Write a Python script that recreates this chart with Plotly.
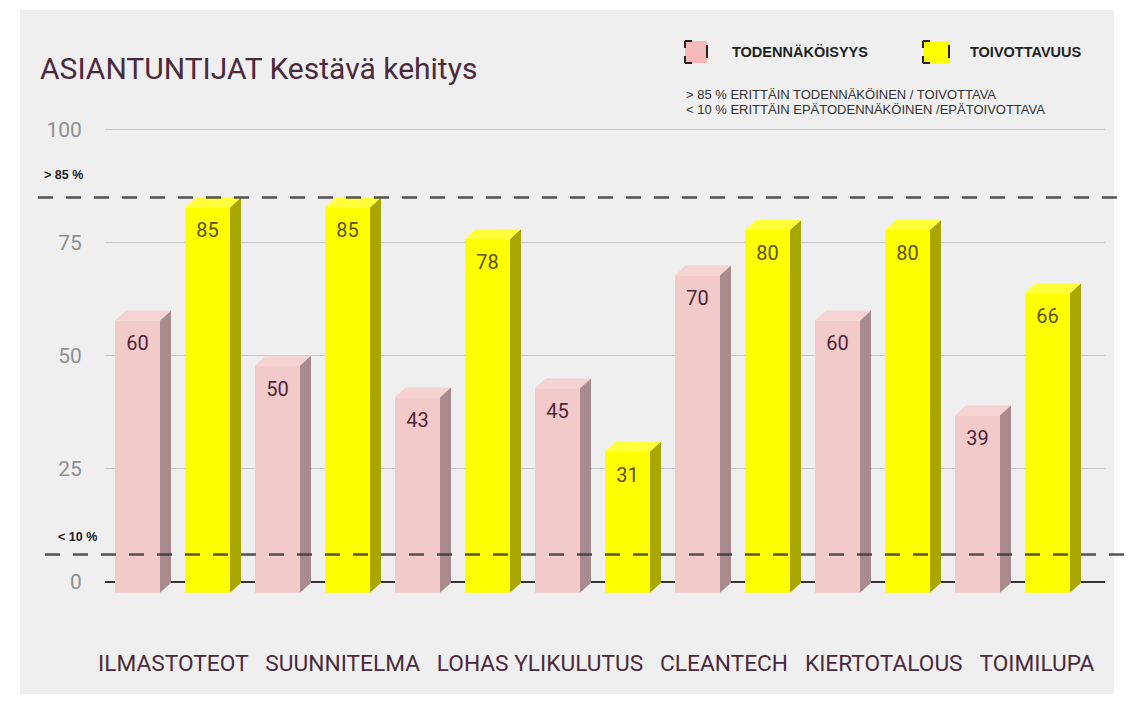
import plotly.graph_objects as go

categories = ["ILMASTOTEOT", "SUUNNITELMA", "LOHAS", "YLIKULUTUS", "CLEANTECH", "KIERTOTALOUS", "TOIMILUPA"]
todennakoisyys = [60, 50, 43, 45, 70, 60, 39]
toivottavuus = [85, 85, 78, 31, 80, 80, 66]
y_ticks = [0, 25, 50, 75, 100]
high_limit = 85
low_limit = 6

OFF = 8  # page body margin
W, H = 1133 - OFF, 705 - OFF
ML, MT = 105 - OFF, 116 - OFF
PW, PH = 1000, 486
MR, MB = W - ML - PW, H - MT - PH
PX_UNIT = 140.0  # pixels per category
Y0, Y1 = -4.5, 103
PY = PH / (Y1 - Y0)

def px_x(p):
    return (p - OFF - ML) / PW

def px_y(p):
    return (MT + PH - (p - OFF)) / PH

FRONT_W = 45 / PX_UNIT
DX = 11 / PX_UNIT
DY = 10 / PY
BASE = -11 / PY
SIDE_BASE = -1 / PY

series = [
    dict(name="TODENNÄKÖISYYS", vals=todennakoisyys, off=0.0, front="#f3caca", side="#a98b8f",
         top="#f6d3d3", txt="#4e2535"),
    dict(name="TOIVOTTAVUUS", vals=toivottavuus, off=0.5, front="#ffff00", side="#aaa600",
         top="#ffff3a", txt="#5c5200"),
]

fig = go.Figure()
for s in series:
    xl = [i + s["off"] for i in range(len(categories))]
    xc = [x + FRONT_W / 2 for x in xl]
    fig.add_trace(go.Bar(
        x=xc, y=[v - DY - BASE for v in s["vals"]], base=BASE, width=FRONT_W,
        marker=dict(color=s["front"], line=dict(width=0)), name=s["name"], showlegend=False,
        hoverinfo="skip"))
    sx, sy, tx, ty = [], [], [], []
    for x, v in zip(xl, s["vals"]):
        xr = x + FRONT_W
        sx += [xr, xr + DX, xr + DX, xr, xr, None]
        sy += [BASE, SIDE_BASE, v, v - DY, BASE, None]
        tx += [x, xr, xr + DX, x + DX, x, None]
        ty += [v - DY, v - DY, v, v, v - DY, None]
    fig.add_trace(go.Scatter(x=sx, y=sy, fill="toself", fillcolor=s["side"], mode="lines",
                             line=dict(width=0, color=s["side"]), showlegend=False, hoverinfo="skip"))
    fig.add_trace(go.Scatter(x=tx, y=ty, fill="toself", fillcolor=s["top"], mode="lines",
                             line=dict(width=0, color=s["top"]), showlegend=False, hoverinfo="skip"))
    fig.add_trace(go.Scatter(x=xc, y=[v - 35 / PY for v in s["vals"]], mode="text",
                             text=[str(v) for v in s["vals"]],
                             textfont=dict(family="Roboto", size=20, color=s["txt"]),
                             showlegend=False, hoverinfo="skip"))

shapes = [
    dict(type="rect", xref="paper", yref="paper", x0=px_x(20), x1=px_x(1114), y0=px_y(10), y1=px_y(694),
         fillcolor="#efefef", line=dict(width=0), layer="below"),
]
for lvl, xs in [(high_limit, 38), (low_limit, 45)]:
    shapes.append(dict(type="line", xref="paper", yref="y", x0=px_x(xs), x1=px_x(1133), y0=lvl, y1=lvl,
                       line=dict(color="rgba(55,55,55,0.85)", width=2.5, dash="15px,13px"), layer="above"))

# legend swatches
for (x0, x1, col) in [(685, 707, "#f6b8b8"), (923, 949, "#ffff00")]:
    shapes.append(dict(type="rect", xref="paper", yref="paper", x0=px_x(x0), x1=px_x(x1),
                       y0=px_y(63), y1=px_y(41), fillcolor=col, line=dict(width=0)))
    blk = dict(color="#222", width=2)
    segs = [((x0, 41), (x0 + 7, 41)), ((x0, 41), (x0, 48)), ((x0, 63), (x0 + 7, 63)), ((x0, 56), (x0, 63)),
            ((x1, 45), (x1, 58))]
    for (a, b) in segs:
        shapes.append(dict(type="line", xref="paper", yref="paper", x0=px_x(a[0]), y0=px_y(a[1]),
                           x1=px_x(b[0]), y1=px_y(b[1]), line=blk))

annotations = [
    dict(text="ASIANTUNTIJAT Kestävä kehitys", xref="paper", yref="paper", x=px_x(38), y=px_y(68),
         xanchor="left", yanchor="middle", showarrow=False,
         font=dict(family="Roboto", size=30, color="#4a2a3c")),
    dict(text="<b>TODENNÄKÖISYYS</b>", xref="paper", yref="paper", x=px_x(730), y=px_y(52),
         xanchor="left", yanchor="middle", showarrow=False,
         font=dict(family="Liberation Sans", size=14.5, color="#222")),
    dict(text="<b>TOIVOTTAVUUS</b>", xref="paper", yref="paper", x=px_x(968), y=px_y(52),
         xanchor="left", yanchor="middle", showarrow=False,
         font=dict(family="Liberation Sans", size=14.5, color="#222")),
    dict(text="&gt; 85 % ERITTÄIN TODENNÄKÖINEN / TOIVOTTAVA", xref="paper", yref="paper", x=px_x(684),
         y=px_y(94), xanchor="left", yanchor="middle", showarrow=False,
         font=dict(family="Liberation Sans", size=13, color="#333")),
    dict(text="&lt; 10 % ERITTÄIN EPÄTODENNÄKÖINEN /EPÄTOIVOTTAVA", xref="paper", yref="paper", x=px_x(684),
         y=px_y(109), xanchor="left", yanchor="middle", showarrow=False,
         font=dict(family="Liberation Sans", size=13, color="#333")),
    dict(text="<b>&gt; 85 %</b>", xref="paper", yref="paper", x=px_x(42), y=px_y(175),
         xanchor="left", yanchor="middle", showarrow=False,
         font=dict(family="Liberation Sans", size=12.5, color="#222")),
    dict(text="<b>&lt; 10 %</b>", xref="paper", yref="paper", x=px_x(56), y=px_y(537),
         xanchor="left", yanchor="middle", showarrow=False,
         font=dict(family="Liberation Sans", size=12.5, color="#222")),
]
sep = ["\u00a0\u00a0\u00a0", "\u00a0\u00a0\u00a0", "\u00a0", "\u00a0\u00a0\u00a0", "\u00a0\u00a0\u00a0", "\u00a0\u00a0\u00a0"]
label_line = categories[0] + "".join(sp + c for sp, c in zip(sep, categories[1:]))
annotations.append(dict(text=label_line, xref="paper", yref="paper", x=px_x(596.5), y=px_y(663),
                        xanchor="center", yanchor="middle", showarrow=False,
                        font=dict(family="Roboto", size=22.7, color="#4a2a3c")))

fig.update_layout(
    width=W, height=H, margin=dict(l=ML, r=MR, t=MT, b=MB, pad=0),
    paper_bgcolor="#ffffff", plot_bgcolor="rgba(0,0,0,0)",
    barmode="overlay", showlegend=False,
    shapes=shapes, annotations=annotations,
    xaxis=dict(range=[-10 / PX_UNIT, (PW - 10) / PX_UNIT], showgrid=False, zeroline=False,
               showticklabels=False, fixedrange=True),
    yaxis=dict(range=[Y0, Y1], tickvals=y_ticks, showgrid=True, gridcolor="#c8c8c8", gridwidth=1,
               zeroline=True, zerolinecolor="#333", zerolinewidth=1.5,
               ticks="outside", ticklen=18, tickcolor="rgba(0,0,0,0)",
               tickfont=dict(family="Roboto", size=21, color="#8f8f8f")),
    font=dict(family="Roboto"),
)
fig.write_html("out.html")
